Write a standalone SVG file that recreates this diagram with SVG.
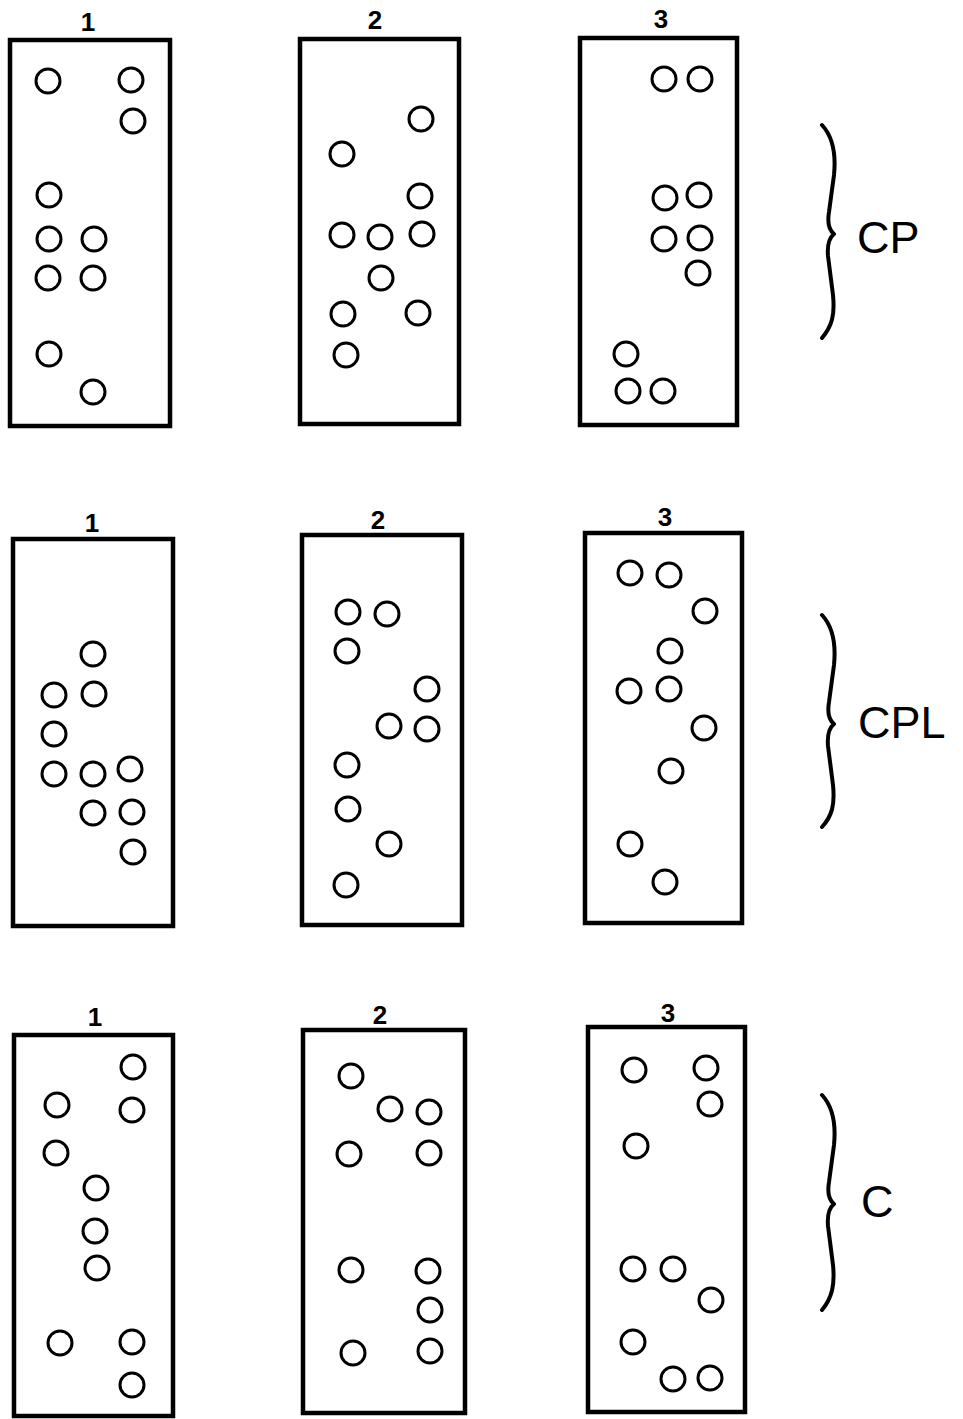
<svg xmlns="http://www.w3.org/2000/svg" width="963" height="1419" viewBox="0 0 963 1419">
<style>
.box{fill:none;stroke:#000;stroke-width:4.5}
.dot{fill:none;stroke:#000;stroke-width:3}
.num{font-family:"Liberation Sans",Arial,sans-serif;font-weight:bold;font-size:26px;text-anchor:middle;fill:#000}
.lab{font-family:"Liberation Sans",Arial,sans-serif;font-size:45px;fill:#000}
.brace{fill:none;stroke:#000;stroke-width:4;stroke-linecap:round;stroke-linejoin:round}
</style>
<rect width="963" height="1419" fill="#fff"/>

<g id="cp1">
<rect class="box" x="10" y="40" width="160" height="386"/>
<text class="num" x="88" y="31">1</text>
<circle class="dot" cx="48" cy="81" r="12"/><circle class="dot" cx="131" cy="80" r="12"/>
<circle class="dot" cx="133" cy="121" r="12"/><circle class="dot" cx="49" cy="195" r="12"/>
<circle class="dot" cx="49" cy="239" r="12"/><circle class="dot" cx="94" cy="239" r="12"/>
<circle class="dot" cx="48" cy="278" r="12"/><circle class="dot" cx="93" cy="278" r="12"/>
<circle class="dot" cx="49" cy="354" r="12"/><circle class="dot" cx="93" cy="392" r="12"/>
</g>
<g id="cp2">
<rect class="box" x="300" y="39" width="159" height="385"/>
<text class="num" x="375" y="29">2</text>
<circle class="dot" cx="421" cy="119" r="12"/><circle class="dot" cx="342" cy="154" r="12"/>
<circle class="dot" cx="420" cy="196" r="12"/><circle class="dot" cx="342" cy="235" r="12"/>
<circle class="dot" cx="380" cy="237" r="12"/><circle class="dot" cx="422" cy="234" r="12"/>
<circle class="dot" cx="381" cy="278" r="12"/><circle class="dot" cx="343" cy="314" r="12"/>
<circle class="dot" cx="418" cy="313" r="12"/><circle class="dot" cx="346" cy="355" r="12"/>
</g>
<g id="cp3">
<rect class="box" x="580" y="38" width="157" height="387"/>
<text class="num" x="661" y="28">3</text>
<circle class="dot" cx="664" cy="79" r="12"/><circle class="dot" cx="700" cy="79" r="12"/>
<circle class="dot" cx="665" cy="198" r="12"/><circle class="dot" cx="699" cy="195" r="12"/>
<circle class="dot" cx="664" cy="239" r="12"/><circle class="dot" cx="700" cy="238" r="12"/>
<circle class="dot" cx="698" cy="273" r="12"/><circle class="dot" cx="626" cy="354" r="12"/>
<circle class="dot" cx="628" cy="391" r="12"/><circle class="dot" cx="663" cy="391" r="12"/>
</g>

<g id="cpl1">
<rect class="box" x="13" y="539" width="160" height="387"/>
<text class="num" x="92" y="532">1</text>
<circle class="dot" cx="93" cy="654" r="12"/><circle class="dot" cx="54" cy="695" r="12"/>
<circle class="dot" cx="94" cy="694" r="12"/><circle class="dot" cx="54" cy="734" r="12"/>
<circle class="dot" cx="54" cy="774" r="12"/><circle class="dot" cx="93" cy="774" r="12"/>
<circle class="dot" cx="130" cy="769" r="12"/><circle class="dot" cx="93" cy="813" r="12"/>
<circle class="dot" cx="132" cy="812" r="12"/><circle class="dot" cx="133" cy="852" r="12"/>
</g>
<g id="cpl2">
<rect class="box" x="302" y="535" width="160" height="390"/>
<text class="num" x="378" y="529">2</text>
<circle class="dot" cx="348" cy="612" r="12"/><circle class="dot" cx="387" cy="614" r="12"/>
<circle class="dot" cx="347" cy="651" r="12"/><circle class="dot" cx="427" cy="689" r="12"/>
<circle class="dot" cx="389" cy="726" r="12"/><circle class="dot" cx="427" cy="729" r="12"/>
<circle class="dot" cx="347" cy="765" r="12"/><circle class="dot" cx="348" cy="809" r="12"/>
<circle class="dot" cx="389" cy="844" r="12"/><circle class="dot" cx="346" cy="885" r="12"/>
</g>
<g id="cpl3">
<rect class="box" x="585" y="533" width="157" height="390"/>
<text class="num" x="665" y="526">3</text>
<circle class="dot" cx="630" cy="573" r="12"/><circle class="dot" cx="669" cy="575" r="12"/>
<circle class="dot" cx="705" cy="611" r="12"/><circle class="dot" cx="670" cy="651" r="12"/>
<circle class="dot" cx="629" cy="691" r="12"/><circle class="dot" cx="669" cy="689" r="12"/>
<circle class="dot" cx="704" cy="728" r="12"/><circle class="dot" cx="671" cy="771" r="12"/>
<circle class="dot" cx="630" cy="844" r="12"/><circle class="dot" cx="665" cy="882" r="12"/>
</g>

<g id="c1">
<rect class="box" x="14" y="1035" width="159" height="381"/>
<text class="num" x="95" y="1026">1</text>
<circle class="dot" cx="133" cy="1067" r="12"/><circle class="dot" cx="57" cy="1105" r="12"/>
<circle class="dot" cx="132" cy="1110" r="12"/><circle class="dot" cx="56" cy="1153" r="12"/>
<circle class="dot" cx="96" cy="1188" r="12"/><circle class="dot" cx="95" cy="1231" r="12"/>
<circle class="dot" cx="97" cy="1268" r="12"/><circle class="dot" cx="60" cy="1343" r="12"/>
<circle class="dot" cx="132" cy="1342" r="12"/><circle class="dot" cx="132" cy="1385" r="12"/>
</g>
<g id="c2">
<rect class="box" x="303" y="1030" width="162" height="383"/>
<text class="num" x="380" y="1024">2</text>
<circle class="dot" cx="351" cy="1076" r="12"/><circle class="dot" cx="390" cy="1109" r="12"/>
<circle class="dot" cx="429" cy="1112" r="12"/><circle class="dot" cx="349" cy="1154" r="12"/>
<circle class="dot" cx="429" cy="1153" r="12"/><circle class="dot" cx="351" cy="1270" r="12"/>
<circle class="dot" cx="428" cy="1271" r="12"/><circle class="dot" cx="430" cy="1310" r="12"/>
<circle class="dot" cx="353" cy="1353" r="12"/><circle class="dot" cx="430" cy="1351" r="12"/>
</g>
<g id="c3">
<rect class="box" x="588" y="1027" width="157" height="385"/>
<text class="num" x="668" y="1022">3</text>
<circle class="dot" cx="634" cy="1070" r="12"/><circle class="dot" cx="706" cy="1068" r="12"/>
<circle class="dot" cx="710" cy="1104" r="12"/><circle class="dot" cx="636" cy="1146" r="12"/>
<circle class="dot" cx="633" cy="1269" r="12"/><circle class="dot" cx="673" cy="1269" r="12"/>
<circle class="dot" cx="711" cy="1300" r="12"/><circle class="dot" cx="633" cy="1342" r="12"/>
<circle class="dot" cx="673" cy="1379" r="12"/><circle class="dot" cx="710" cy="1378" r="12"/>
</g>

<g id="braces">
<path class="brace" d="M822,125 C834,138 836,155 834,175 L829,212 C827,224 829,230 834,234 C829,238 827,244 828,256 L833,295 C835,315 832,326 822,338"/>
<path class="brace" d="M822,615 C834,628 836,645 834,665 L829,702 C827,714 829,720 834,724 C829,728 827,734 828,746 L833,785 C835,805 832,816 822,827"/>
<path class="brace" d="M822,1095 C834,1108 836,1125 834,1145 L829,1182 C827,1194 829,1200 834,1204 C829,1208 827,1214 828,1226 L833,1265 C835,1285 832,1298 822,1310"/>
</g>

<g id="labels">
<text class="lab" x="857" y="253">CP</text>
<text class="lab" x="858" y="738">CPL</text>
<text class="lab" x="861" y="1217">C</text>
</g>
</svg>
